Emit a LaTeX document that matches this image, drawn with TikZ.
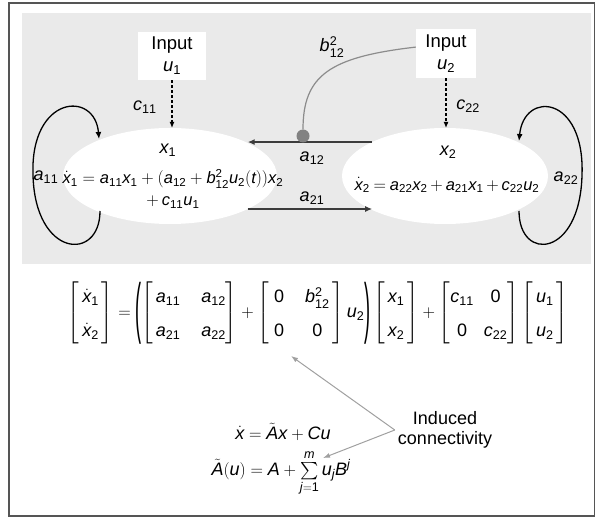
\documentclass[tikz,border=0pt]{standalone}
\usepackage{amsmath}
\usepackage{mathspec}
\setmainfont{Liberation Sans}
\setmathsfont(Digits)[Scale=1]{Liberation Sans}
\setmathsfont(Latin)[Scale=1,UprightFont={Liberation Sans Italic},ItalicFont={Liberation Sans Italic}]{Liberation Sans}
\usetikzlibrary{arrows.meta,shapes.geometric}
\definecolor{panel}{RGB}{234,234,234}
\definecolor{frame}{RGB}{85,85,85}
\definecolor{conn}{RGB}{60,60,60}
\definecolor{curvegray}{RGB}{140,140,140}
\definecolor{dotgray}{RGB}{130,130,130}
\definecolor{lightarrow}{RGB}{160,160,160}
\newcommand{\eqtight}{\thickmuskip=4mu\relax\medmuskip=3mu\relax}
\newcommand{\tallL}{\mathopen{\vcenter{\hbox{\scalebox{1}[3.7]{(}}}}}
\newcommand{\tallR}{\mathclose{\vcenter{\hbox{\scalebox{1}[3.7]{)}}}}}
\begin{document}
\begin{tikzpicture}[x=1pt,y=-1pt,
  lbl/.style={font=\fontsize{18}{21}\selectfont, inner sep=0pt},
  eqs/.style={font=\fontsize{16.5}{22}\selectfont, align=center, inner sep=0pt},
  inbox/.style={fill=white, minimum width=68pt, minimum height=48pt, align=center,
                font=\fontsize{18.5}{22}\selectfont, inner sep=0pt},
  ell/.style={ellipse, fill=white, inner sep=0pt, outer sep=0pt},
  dasharrow/.style={dash pattern=on 3pt off 2pt, line width=1.3pt, -{Latex[length=6pt,width=5pt]}},
  connarrow/.style={draw=conn, line width=1.8pt, -{Latex[length=7pt,width=6pt]}},
  looparrow/.style={line width=1.3pt, -{Latex[length=7pt,width=6pt]}},
  grayarrow/.style={draw=lightarrow, line width=1pt, -{Latex[length=7pt,width=5pt]}}
]
\useasboundingbox (0,0) rectangle (596,518);
% frame and panel
\draw[frame, line width=1.5pt] (9,3) rectangle (594.5,516);
\fill[panel] (22,13) rectangle (591,264);

% ellipses
\node[ell, minimum width=214pt, minimum height=96pt] (e1) at (170,176) {};
\node[ell, minimum width=206pt, minimum height=96pt] (e2) at (445,176) {};

% input boxes
\node[inbox] (in1) at (172,56) {Input\\$u_1$};
\node[inbox, minimum width=60pt, minimum height=49pt] (in2) at (446,53.5) {Input\\$u_2$};

% dashed input arrows
\draw[dasharrow] (in1.south) -- (in1.south |- e1.north);
\draw[dasharrow] (in2.south) -- (in2.south |- e2.north);

% coupling arrows
\draw[connarrow] (e2.155) -- (e2.155 -| e1.23);
\draw[connarrow] (e1.337) -- (e1.337 -| e2.205);

% modulatory input
\node[circle, fill=dotgray, minimum size=13pt, inner sep=0pt] (dot) at (303,136) {};
\draw[curvegray, line width=1.2pt] (in2.168) .. controls (330,57) and (303,75) .. (dot.north);

% self loops
\coordinate (l1s) at (100,211);
\coordinate (l1e) at (99,139);
\draw[looparrow] (l1s) .. controls (100,262) and (35,258) .. (33,175)
                       .. controls (30,95) and (95,90) .. (l1e);
\coordinate (l2s) at (519,211);
\coordinate (l2e) at (519,141);
\draw[looparrow] (l2s) .. controls (519,262) and (580,258) .. (582,175)
                       .. controls (585,95) and (524,90) .. (l2e);

% labels
\node[lbl] (c11) at (145,107) {$c_{11}$};
\node[lbl] (c22) at (468,106) {$c_{22}$};
\node[lbl] (b12) at (332,47) {$b_{12}^2$};
\node[lbl] (a12) at (312,158) {$a_{12}$};
\node[lbl] (a21) at (312,198) {$a_{21}$};
\node[lbl] (a11) at (46,177) {$a_{11}$};
\node[lbl] (a22) at (566,178) {$a_{22}$};

% ellipse texts
\node[lbl] (x1l) at (168,150) {$x_1$};
\node[lbl] (x2l) at (448,152) {$x_2$};
\node[eqs] (eq1) at (173,189) {$\dot{x}_1 = a_{11}x_1 + (a_{12} + b_{12}^2u_2(t))x_2$\\$+\,c_{11}u_1$};
\node[eqs] (eq2) at (447,185) {$\eqtight\dot{x}_2 = a_{22}x_2 + a_{21}x_1 + c_{22}u_2$};

% matrix equation
\node[lbl] (meq) at (318,313) {\renewcommand{\arraystretch}{1.6}\setlength{\arraycolsep}{10.5pt}%
$\begin{bmatrix}\hspace{3pt}\dot{x}_1\hspace{3pt}\\ \hspace{3pt}\dot{x}_2\hspace{3pt}\end{bmatrix}
=\tallL\begin{bmatrix}\,a_{11} & a_{12}\\ \,a_{21} & a_{22}\end{bmatrix}
+\begin{bmatrix}\hspace{5pt}0 & b_{12}^2\,\\ \hspace{5pt}0 & 0\,\end{bmatrix}u_2\tallR
\begin{bmatrix}\,x_1\,\\ \,x_2\,\end{bmatrix}
+\setlength{\arraycolsep}{5pt}\begin{bmatrix}c_{11} & 0\\ 0 & c_{22}\end{bmatrix}
\begin{bmatrix}\,u_1\,\\ \,u_2\,\end{bmatrix}$};

% lower equations
\node[lbl] (eqA) at (283,432) {$\dot{x} = \tilde{A}x + Cu$};
\node[lbl] (eqB) at (281,473) {$\tilde{A}(u) = A + \sum\limits_{j=1}^{m} u_j B^j$};
\node[lbl, align=center, font=\fontsize{18}{20}\selectfont, inner sep=3pt] (ind) at (445,430) {Induced\\connectivity};
\coordinate (t1) at (291,356);
\coordinate (t2) at (323,458);
\draw[grayarrow] (ind.west) -- (t1);
\draw[grayarrow] (ind.west) -- (t2);
\end{tikzpicture}
\end{document}
